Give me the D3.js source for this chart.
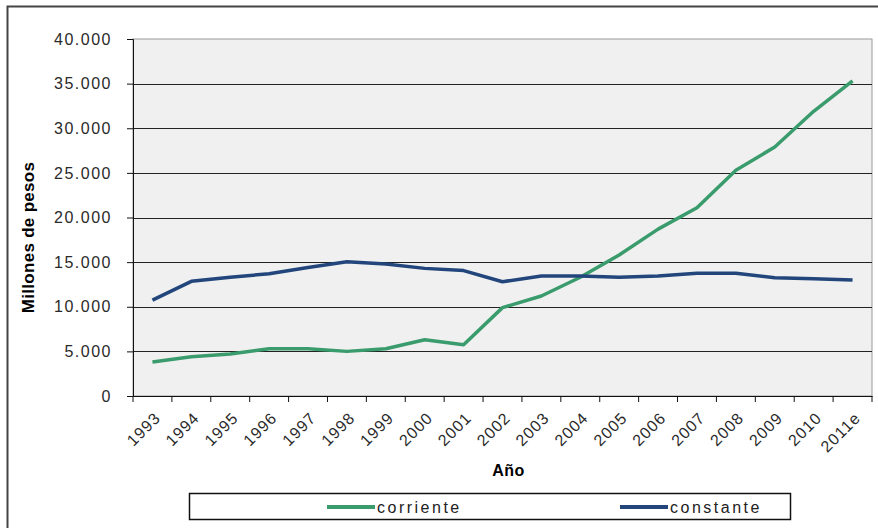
<!DOCTYPE html>
<html>
<head>
<meta charset="utf-8">
<script src="https://cdn.jsdelivr.net/npm/d3@7"></script>
<style>
	body { margin:0; background:#fff; }
	svg text { font-family: "Liberation Sans", Arial, sans-serif; }
</style>
</head>
<body>
<div id="chart"></div>
<script>
// datos
var anios = ["1993","1994","1995","1996","1997","1998","1999","2000","2001","2002",
             "2003","2004","2005","2006","2007","2008","2009","2010","2011e"];
var corriente = [3800,4400,4700,5300,5300,5000,5300,6300,5750,9900,
                 11200,13300,15800,18700,21100,25300,27900,31900,35300];
var constante = [10750,12850,13300,13700,14400,15050,14800,14300,14050,12800,
                 13450,13450,13300,13450,13750,13750,13250,13150,13000];
var yTicks = [0,5000,10000,15000,20000,25000,30000,35000,40000];

var W = 878, H = 528;
var m = {left:133, top:39, right:872, bottom:396};

var svg = d3.select("#chart").append("svg")
	.attr("width", W).attr("height", H);

// marco exterior
svg.append("rect")
	.attr("x", 7.5).attr("y", 6.5)
	.attr("width", W + 20).attr("height", H + 20)
	.attr("fill", "#fff").attr("stroke", "#444").attr("stroke-width", 2);

var x = d3.scaleBand().domain(anios).range([m.left, m.right]);
var y = d3.scaleLinear().domain([0, 40000]).range([m.bottom, m.top]);

// fondo del area
svg.append("rect")
	.attr("x", m.left).attr("y", m.top)
	.attr("width", m.right - m.left).attr("height", m.bottom - m.top)
	.attr("fill", "#f0f0f0").attr("stroke", "#9a9a9a");

// lineas de grilla
svg.selectAll(".grid").data(yTicks.filter(function(d){ return d > 0 && d < 40000; }))
	.enter().append("line")
	.attr("x1", m.left).attr("x2", m.right)
	.attr("y1", function(d){ return Math.round(y(d)) + 0.5; })
	.attr("y2", function(d){ return Math.round(y(d)) + 0.5; })
	.attr("stroke", "#222").attr("stroke-width", 1);

// eje y
var fmt = function(d){ return d3.format(",")(d).replace(/,/g, "."); };
var gy = svg.append("g").attr("transform", "translate(" + m.left + ",0)")
	.call(d3.axisLeft(y).tickValues(yTicks).tickSize(6).tickPadding(15).tickFormat(fmt));
gy.select(".domain").attr("stroke", "#111");
gy.selectAll(".tick line").attr("stroke", "#111");
gy.selectAll("text").attr("font-size", 16).attr("letter-spacing", 1.5).attr("fill", "#2a2a2a")
	.attr("font-family", "Liberation Sans, Arial, sans-serif");

// eje x
var gx = svg.append("g").attr("transform", "translate(0," + m.bottom + ")")
	.call(d3.axisBottom(x).tickSize(0).tickFormat(""));
gx.select(".domain").attr("stroke", "#111");
var bordes = anios.map(function(a){ return x(a); }).concat([m.right]);
gx.selectAll(".sep").data(bordes).enter().append("line")
	.attr("x1", function(d){ return d; }).attr("x2", function(d){ return d; })
	.attr("y1", 0).attr("y2", 6).attr("stroke", "#111");
gx.selectAll(".lbl").data(anios).enter().append("text")
	.attr("transform", function(d){
		return "translate(" + (x(d) + x.bandwidth()/2 + 5) + ",19) rotate(-45)";
	})
	.attr("text-anchor", "end").attr("dy", "0.35em")
	.attr("font-size", 16).attr("letter-spacing", 1).attr("fill", "#2a2a2a")
	.attr("font-family", "Liberation Sans, Arial, sans-serif")
	.text(function(d){ return d; });

// titulos de ejes
svg.append("text")
	.attr("transform", "translate(34," + ((m.top + m.bottom)/2 + 20) + ") rotate(-90)")
	.attr("text-anchor", "middle").attr("font-size", 17).attr("font-weight", "bold")
	.attr("letter-spacing", 0.3).attr("fill", "#000").text("Millones de pesos");
svg.append("text")
	.attr("x", (m.left + m.right)/2 + 6).attr("y", 476)
	.attr("text-anchor", "middle").attr("font-size", 16).attr("font-weight", "bold")
	.attr("letter-spacing", 0.5).attr("fill", "#000").text("Año");

// series
var series = [
	{name:"corriente", values:corriente, color:"#3a9c6c"},
	{name:"constante", values:constante, color:"#22467c"}
];
var line = d3.line()
	.x(function(d, i){ return x(anios[i]) + x.bandwidth()/2; })
	.y(function(d){ return y(d); });
svg.selectAll(".serie").data(series).enter().append("path")
	.attr("d", function(s){ return line(s.values); })
	.attr("fill", "none")
	.attr("stroke", function(s){ return s.color; })
	.attr("stroke-width", 3.5)
	.attr("stroke-linejoin", "round");

// leyenda
svg.append("rect")
	.attr("x", 189.5).attr("y", 493.5).attr("width", 601).attr("height", 26)
	.attr("fill", "#fff").attr("stroke", "#111").attr("stroke-width", 1.5);
var leg = svg.selectAll(".leg").data(series).enter().append("g")
	.attr("transform", function(d, i){ return "translate(" + (327 + i*293) + ",507)"; });
leg.append("line").attr("x1", 0).attr("x2", 48)
	.attr("stroke", function(d){ return d.color; }).attr("stroke-width", 4);
leg.append("text").attr("x", 50).attr("dy", "0.35em")
	.attr("font-size", 16).attr("letter-spacing", 2.5).attr("fill", "#222")
	.text(function(d){ return d.name; });
</script>
</body>
</html>
